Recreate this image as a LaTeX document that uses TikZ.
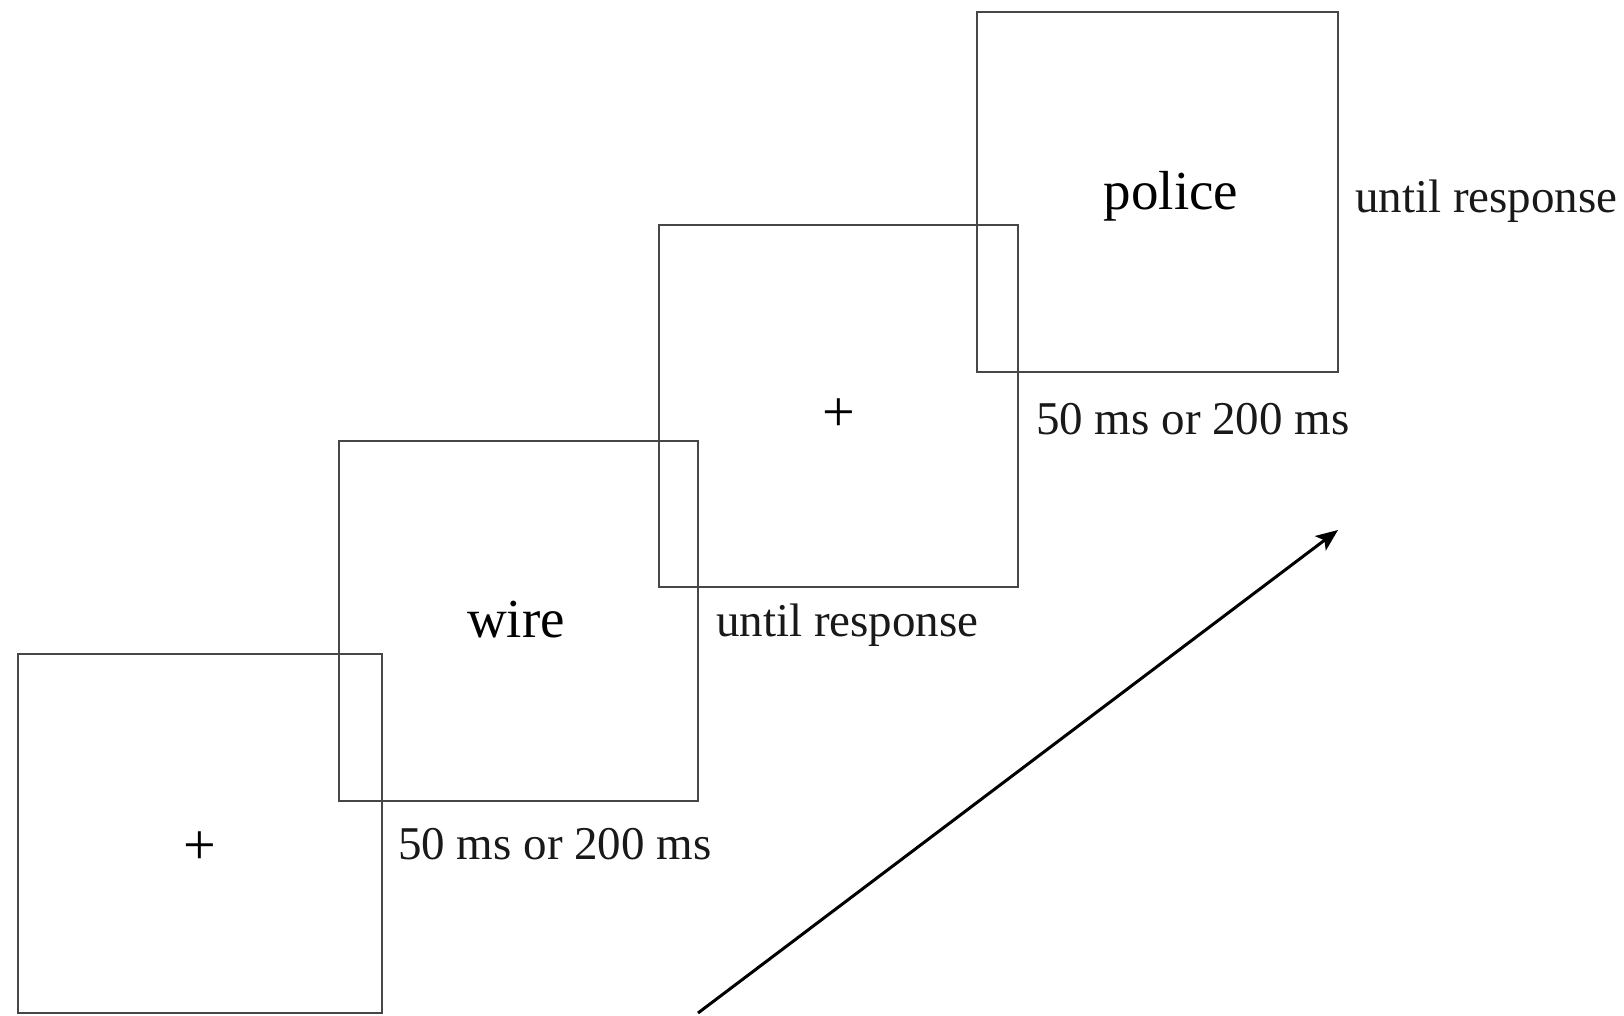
\documentclass[tikz,border=0pt]{standalone}
\usepackage{fontspec}
\setmainfont{Liberation Serif}
\usetikzlibrary{arrows.meta}
\begin{document}
\begin{tikzpicture}[x=1pt,y=-1pt,
  screen/.style={draw=black!72, line width=2pt, minimum width=360pt, minimum height=360pt, inner sep=0pt, fill=none},
  word/.style={inner sep=0pt, anchor=base, font=\fontsize{55}{60}\selectfont},
  fix/.style={inner sep=0pt, font=\fontsize{58}{62}\selectfont},
  lbl/.style={inner sep=0pt, anchor=base west, font=\fontsize{47}{54}\selectfont, text=black!90}]
\useasboundingbox (0,0) rectangle (1624,1015);
\fill[white] (0,0) rectangle (1624,1015);
% screens
\node[screen, minimum width=364pt, minimum height=359pt] (s1) at (200,833.5) {};
\node[screen, minimum width=359pt] (s2) at (518.5,621) {};
\node[screen, minimum width=359pt, minimum height=362pt] (s3) at (838.5,406) {};
\node[screen, minimum width=361pt] (s4) at (1157,192) {};
% contents
\node[fix] (p1) at (200,848) {+};
\node[word] (w2) at (516,637) {wire};
\node[fix] (p3) at (839,415.5) {+};
\node[word] (w4) at (1171,209) {police};
% durations
\node[lbl] (d2) at (398,859) {50 ms or 200 ms};
\node[lbl] (d3) at (716,636) {until response};
\node[lbl] (d4) at (1036,434) {50 ms or 200 ms};
\node[lbl] (d5) at (1355,212) {until response};
% time arrow
\coordinate (tA) at (698,1013);
\coordinate (tB) at (1338,530);
\draw[line width=3pt, black, -{Stealth[length=22pt,width=18pt,inset=5pt]}] (tA) -- (tB);
\end{tikzpicture}
\end{document}
